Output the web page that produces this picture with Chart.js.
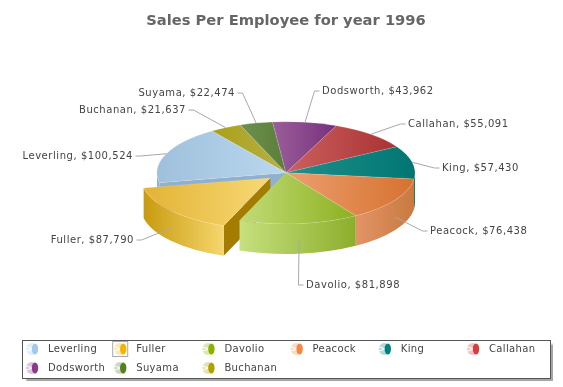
<!DOCTYPE html>
<html>
<head>
<meta charset="utf-8">
<title>Sales Per Employee</title>
<script src="https://cdn.jsdelivr.net/npm/chart.js@4/dist/chart.umd.js"></script>
<style>
    body { margin: 0; background: #fff; }
    canvas { display: block; }
</style>
</head>
<body>
<canvas id="sales-pie" width="563" height="387"></canvas>
<script>
// Dados, na ordem da legenda
const employees = ['Leverling', 'Fuller', 'Davolio', 'Peacock', 'King', 'Callahan', 'Dodsworth', 'Suyama', 'Buchanan'];
const sales = [100524, 87790, 81898, 76438, 57430, 55091, 43962, 22474, 21637];

// Cores: tampo (esquerda, direita), lateral (esquerda, direita), legenda
const topColors = [['#9fc0dc', '#bad7ee'], ['#e2b335', '#f8d975'], ['#c2dc78', '#8cb020'], ['#ec9f70', '#d6722f'], ['#20908c', '#007672'], ['#cc6060', '#a93232'], ['#9a5f9a', '#77307c'], ['#6e8f50', '#5a7f38'], ['#a9a018', '#b8b048']];
const wallColors = [['#8fb4d2', '#8fb4d2'], ['#c89a10', '#f6d76c'], ['#c6e07e', '#8cae2c'], ['#e39467', '#c87a40'], ['#007a74', '#007a74'], ['#a93232', '#a93232'], ['#77307c', '#77307c'], ['#5a7f38', '#5a7f38'], ['#a9a018', '#a9a018']];
const faceColors = ['#8fb0ce', '#a47c00'];
const legendColors = ['#a0cbee', '#f4b400', '#8db000', '#f58840', '#008080', '#d83c3c', '#8b3a8b', '#558020', '#b0a000'];

// Posição dos rótulos externos: x, y do texto e alinhamento
const labelSpots = [[133, 156, 'right'], [134, 240, 'right'], [306, 285, 'left'], [430, 231, 'left'], [442, 168, 'left'], [408, 124, 'left'], [322, 91, 'left'], [235, 93, 'right'], [186, 110, 'right']];

const TILT = 0.396;
const DEPTH = 30;
const RADIUS = 129;
const PULL = 20.6;
const PULLED = employees.indexOf('Fuller');

// A pizza gira no sentido horário no Chart.js, então a ordem é invertida
const toChart = list => list.slice().reverse();
const originalIndex = i => employees.length - 1 - i;

function horizontalGradient(ctx, x0, x1, colors) {
    const g = ctx.createLinearGradient(x0, 0, x1, 0);
    g.addColorStop(0, colors[0]);
    g.addColorStop(1, colors[1]);
    return g;
}

function sliceSpan(arc) {
    let min = arc.x, max = arc.x;
    for (let i = 0; i <= 24; i++) {
        const a = arc.startAngle + (arc.endAngle - arc.startAngle) * i / 24;
        const px = arc.x + RADIUS * Math.cos(a);
        min = Math.min(min, px);
        max = Math.max(max, px);
    }
    return [min, max];
}

// Centro achatado da pizza: y do arco projetado na tela
function pieCenterY(chart) {
    return (chart.chartArea.top + chart.chartArea.bottom) / 2;
}
function screenY(chart, y) {
    const c = pieCenterY(chart);
    return c + (y - c) * TILT;
}

function drawFace(ctx, cx, cy, angle, color) {
    const rx = cx + RADIUS * Math.cos(angle);
    const ry = cy + RADIUS * TILT * Math.sin(angle);
    ctx.beginPath();
    ctx.moveTo(cx, cy);
    ctx.lineTo(rx, ry);
    ctx.lineTo(rx, ry + DEPTH);
    ctx.lineTo(cx, cy + DEPTH);
    ctx.closePath();
    ctx.fillStyle = color;
    ctx.fill();
}

function drawWall(ctx, cx, cy, from, to, colors) {
    const x0 = cx + RADIUS * Math.cos(from);
    const x1 = cx + RADIUS * Math.cos(to);
    ctx.beginPath();
    ctx.ellipse(cx, cy, RADIUS, RADIUS * TILT, 0, from, to);
    ctx.ellipse(cx, cy + DEPTH, RADIUS, RADIUS * TILT, 0, to, from, true);
    ctx.closePath();
    ctx.fillStyle = horizontalGradient(ctx, Math.min(x0, x1), Math.max(x0, x1), colors);
    ctx.fill();
}

const pie3d = {
    id: 'pie3d',
    afterDatasetsUpdate(chart) {
        // destaca a fatia movendo o próprio arco, sem mudar o raio
        const arc = chart.getDatasetMeta(0).data[originalIndex(PULLED)];
        const mid = (arc.startAngle + arc.endAngle) / 2;
        arc.x += Math.cos(mid) * PULL;
        arc.y += Math.sin(mid) * PULL;
    },
    beforeDatasetsDraw(chart) {
        const ctx = chart.ctx;
        const arcs = chart.getDatasetMeta(0).data;

        // paredes de trás para frente, antes dos tampos
        for (let i = arcs.length - 1; i >= 0; i--) {
            const arc = arcs[i];
            const idx = originalIndex(i);
            const cy = screenY(chart, arc.y);
            if (idx === PULLED || idx === PULLED - 1) {
                drawFace(ctx, arc.x, cy, arc.startAngle, faceColors[idx === PULLED ? 1 : 0]);
            }
            // só a metade da frente aparece
            for (let k = 0; k < 2; k++) {
                const from = Math.max(arc.startAngle, k * 2 * Math.PI);
                const to = Math.min(arc.endAngle, k * 2 * Math.PI + Math.PI);
                if (to > from) drawWall(ctx, arc.x, cy, from, to, wallColors[idx]);
            }
        }

        arcs.forEach((arc, i) => {
            const span = sliceSpan(arc);
            arc.options.backgroundColor = horizontalGradient(ctx, span[0], span[1], topColors[originalIndex(i)]);
        });

        const c = pieCenterY(chart);
        ctx.save();
        ctx.translate(0, c);
        ctx.scale(1, TILT);
        ctx.translate(0, -c);
    },
    afterDatasetsDraw(chart) {
        const ctx = chart.ctx;
        ctx.restore();
        drawLabels(chart);
        drawLegend(chart);
    }
};

function drawLabels(chart) {
    const ctx = chart.ctx;
    chart.getDatasetMeta(0).data.forEach((arc, i) => {
        const idx = originalIndex(i);
        const spot = labelSpots[idx];
        const mid = (arc.startAngle + arc.endAngle) / 2;
        const sx = arc.x + RADIUS * Math.cos(mid);
        let sy = screenY(chart, arc.y) + RADIUS * TILT * Math.sin(mid);
        if (Math.sin(mid) > 0) sy += DEPTH * 0.57;
        const dir = spot[2] === 'left' ? -1 : 1;

        ctx.strokeStyle = '#a8a8a8';
        ctx.lineWidth = 1;
        ctx.beginPath();
        ctx.moveTo(sx, sy);
        ctx.lineTo(spot[0] + dir * 7.5, spot[1]);
        ctx.lineTo(spot[0] + dir * 2.5, spot[1]);
        ctx.stroke();

        ctx.fillStyle = '#444';
        ctx.font = '10px "DejaVu Sans"';
        ctx.letterSpacing = '0.55px';
        ctx.textAlign = spot[2];
        ctx.textBaseline = 'middle';
        ctx.fillText(`${employees[idx]}, $${sales[idx].toLocaleString('en-US')}`, spot[0], spot[1]);
    });
}

function legendIcon(ctx, x, y, color) {
    ctx.save();
    ctx.globalAlpha = 0.3;
    ctx.fillStyle = color;
    ctx.beginPath();
    ctx.ellipse(x + 5.5, y + 6, 5.5, 6, 0, 0, 2 * Math.PI);
    ctx.fill();
    ctx.restore();
    // divisões claras do ícone
    ctx.strokeStyle = '#fff';
    ctx.lineWidth = 1;
    ctx.beginPath();
    ctx.moveTo(x, y + 4);
    ctx.lineTo(x + 7, y + 6);
    ctx.lineTo(x, y + 8);
    ctx.stroke();
    ctx.beginPath();
    ctx.ellipse(x + 9, y + 6, 3.2, 5.5, 0, 0, 2 * Math.PI);
    ctx.fillStyle = color;
    ctx.fill();
}

function drawLegend(chart) {
    const ctx = chart.ctx;
    ctx.save();
    ctx.shadowColor = 'rgba(0,0,0,0.35)';
    ctx.shadowOffsetX = 2;
    ctx.shadowOffsetY = 2;
    ctx.shadowBlur = 1;
    ctx.fillStyle = '#fff';
    ctx.fillRect(22.5, 340.5, 528, 38);
    ctx.restore();
    ctx.strokeStyle = '#555';
    ctx.lineWidth = 1;
    ctx.strokeRect(22.5, 340.5, 528, 38);

    employees.forEach((name, i) => {
        const col = i % 6;
        const row = Math.floor(i / 6);
        const x = 26 + col * 88.2;
        const y = 343 + row * 19;
        legendIcon(ctx, x, y, legendColors[i]);
        if (i === PULLED) {
            ctx.strokeStyle = '#aaa';
            ctx.strokeRect(x - 1.5, y - 1.5, 15, 15);
        }
        ctx.fillStyle = '#444';
        ctx.font = '10px "DejaVu Sans"';
        ctx.letterSpacing = '0.35px';
        ctx.textAlign = 'left';
        ctx.textBaseline = 'middle';
        ctx.fillText(name, x + 22, y + 6);
    });
    ctx.letterSpacing = '0px';
}

new Chart(document.getElementById('sales-pie'), {
    type: 'pie',
    data: {
        labels: toChart(employees),
        datasets: [{
            data: toChart(sales),
            clip: false,
            backgroundColor: toChart(legendColors),
            borderColor: 'rgba(255,255,255,0.3)',
            borderWidth: 0.6
        }]
    },
    options: {
        responsive: false,
        animation: false,
        events: [],
        rotation: 325,
        radius: RADIUS,
        layout: { padding: { left: 9, right: 0, top: 0, bottom: 71 } },
        plugins: {
            legend: { display: false },
            tooltip: { enabled: false },
            title: {
                display: true,
                text: 'Sales Per Employee for year 1996',
                color: '#666',
                font: { family: '"DejaVu Sans"', size: 14.7, weight: 'bold' },
                padding: { top: 12, bottom: 0 }
            }
        }
    },
    plugins: [pie3d]
});
</script>
</body>
</html>
